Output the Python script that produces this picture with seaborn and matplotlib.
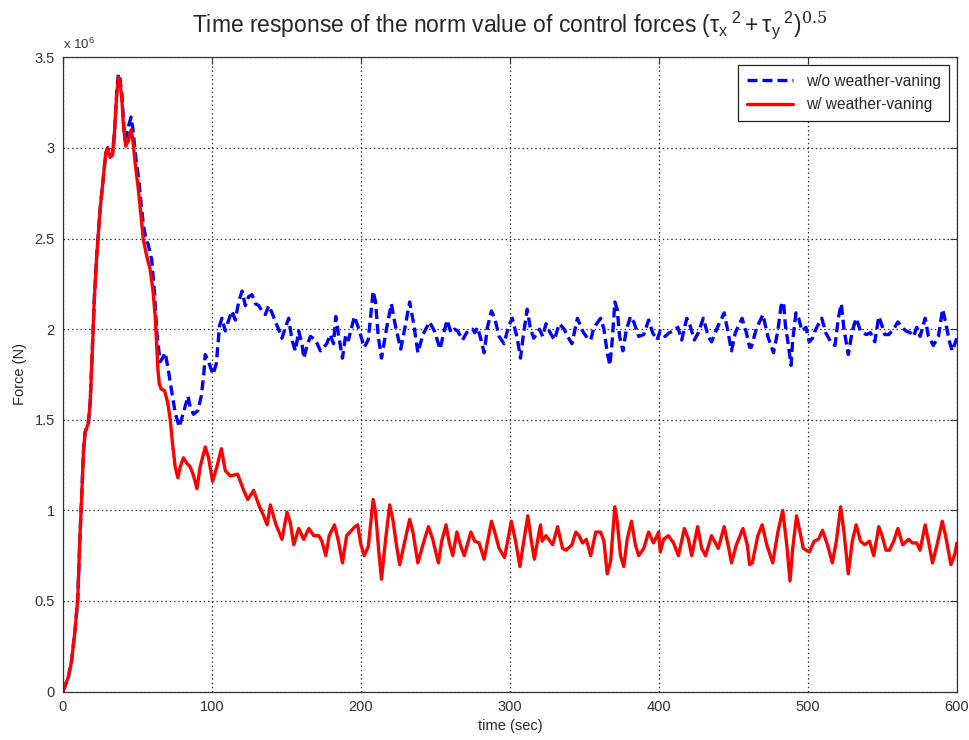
import numpy as np
import pandas as pd
import matplotlib
matplotlib.use("Agg")
import matplotlib.pyplot as plt
import seaborn as sns

# Norm of control forces (units of 1e6 N) versus time (s)
t_with = [0, 3.6, 5.8, 8.1, 9.9, 11.4, 12.6, 13.7, 14.8, 17.0, 18.2, 19.3, 20.0, 21.0, 22.6,
          24.9, 27.1, 28.7, 30.0, 31.6, 33.2, 34.5, 36.1, 37.2, 38.3, 39.5, 40.6, 42.1, 43.9,
          45.7, 46.8, 48.4, 50.6, 52.4, 54.0, 56.3, 58.5, 60.3, 61.9, 63.0, 63.7, 64.6, 65.9,
          68.2, 70.4, 72.0, 73.5, 75.3, 77.1, 78.7, 80.9, 83.1, 85.4, 87.7, 89.9, 92.1, 95.5,
          97.7, 100.4, 103.3, 106.3, 108.9, 112.3, 117.2, 121.3, 124.0, 128.0, 131.4, 134.7,
          137.0, 139.2, 142.6, 147.0, 150.4, 152.6, 154.9, 158.2, 161.6, 165.0, 168.3, 171.7,
          173.8, 176.4, 178.7, 182.2, 184.9, 187.6, 190.4, 193.8, 196.0, 197.8, 200.0, 202.2,
          204.9, 208.2, 209.8, 212.0, 213.8, 216.4, 219.3, 221.6, 223.8, 226.0, 228.9, 232.7,
          234.9, 238.2, 241.6, 245.3, 248.2, 252.0, 254.2, 257.1, 259.3, 261.6, 264.4, 267.1,
          269.3, 273.8, 276.4, 279.3, 282.7, 287.6, 289.8, 292.7, 296.4, 300.9, 303.8, 306.7,
          308.9, 312.0, 314.2, 316.4, 318.5, 320.5, 321.6, 324.2, 326.0, 328.7, 332.0, 335.3,
          337.6, 341.6, 344.2, 346.4, 348.7, 351.3, 354.2, 357.6, 360.9, 363.1, 365.3, 367.6,
          370.4, 372.0, 374.2, 376.4, 378.7, 381.6, 384.2, 386.4, 389.8, 393.1, 396.4, 399.8,
          400.9, 403.1, 406.4, 409.8, 413.1, 417.1, 419.8, 422.0, 426.0, 428.7, 431.3, 435.3,
          439.8, 443.8, 446.9, 448.7, 452.0, 456.4, 459.3, 460.9, 462.7, 466.4, 469.3, 472.4,
          476.4, 479.8, 483.1, 485.8, 488.0, 489.8, 492.4, 494.7, 496.9, 501.0, 504.2, 507.1,
          509.8, 513.1, 516.4, 519.1, 522.0, 524.2, 527.1, 529.8, 532.4, 535.3, 538.2, 541.3,
          544.2, 547.6, 549.8, 552.4, 554.7, 557.6, 560.4, 563.6, 567.6, 570.2, 573.1, 575.3,
          578.7, 580.9, 583.6, 586.4, 590.2, 592.4, 596.0, 598.7, 600.0]
f_with = [0.00, 0.08, 0.17, 0.34, 0.51, 0.86, 1.08, 1.32, 1.43, 1.48, 1.59, 1.80, 1.95, 2.16, 2.40,
          2.66, 2.84, 2.97, 3.00, 2.95, 2.96, 3.08, 3.30, 3.39, 3.36, 3.27, 3.12, 3.01, 3.04,
          3.10, 3.05, 2.92, 2.77, 2.62, 2.49, 2.40, 2.33, 2.22, 2.07, 1.89, 1.78, 1.70, 1.67,
          1.66, 1.59, 1.50, 1.37, 1.24, 1.18, 1.24, 1.29, 1.26, 1.24, 1.19, 1.12, 1.24, 1.35,
          1.29, 1.16, 1.24, 1.34, 1.22, 1.19, 1.20, 1.11, 1.06, 1.11, 1.03, 0.97,
          0.92, 1.03, 0.93, 0.84, 0.99, 0.93, 0.81, 0.90, 0.84, 0.90, 0.86, 0.86,
          0.83, 0.75, 0.86, 0.92, 0.83, 0.71, 0.86, 0.89, 0.91, 0.92, 0.81, 0.75,
          0.80, 1.06, 0.99, 0.77, 0.62, 0.83, 1.03, 0.94, 0.81, 0.70, 0.81, 0.95,
          0.88, 0.71, 0.81, 0.91, 0.84, 0.71, 0.83, 0.92, 0.82, 0.75, 0.88, 0.80,
          0.75, 0.88, 0.83, 0.82, 0.73, 0.94, 0.88, 0.79, 0.74, 0.94, 0.83, 0.69,
          0.81, 0.97, 0.84, 0.73, 0.83, 0.92, 0.83, 0.86, 0.84, 0.81, 0.91, 0.79,
          0.78, 0.81, 0.88, 0.86, 0.82, 0.84, 0.75, 0.88, 0.88, 0.83, 0.65, 0.72,
          1.02, 0.94, 0.75, 0.69, 0.84, 0.94, 0.81, 0.75, 0.79, 0.88, 0.82, 0.88,
          0.77, 0.84, 0.86, 0.82, 0.75, 0.90, 0.84, 0.75, 0.91, 0.79, 0.75, 0.86,
          0.79, 0.91, 0.79, 0.71, 0.81, 0.90, 0.81, 0.70, 0.71, 0.86, 0.92, 0.81,
          0.71, 0.88, 1.00, 0.81, 0.61, 0.79, 0.97, 0.88, 0.79, 0.77, 0.83, 0.84,
          0.89, 0.81, 0.71, 0.83, 1.02, 0.88, 0.65, 0.83, 0.92, 0.83, 0.81, 0.83,
          0.75, 0.91, 0.86, 0.78, 0.78, 0.83, 0.90, 0.81, 0.84, 0.82, 0.82, 0.78,
          0.92, 0.83, 0.71, 0.80, 0.94, 0.86, 0.70, 0.76, 0.82]

t_without = [0, 3.6, 5.8, 8.1, 9.9, 11.4, 12.6, 13.7, 14.8, 17.0, 18.2, 19.3, 20.0, 21.0, 22.6,
             24.9, 27.1, 28.7, 30.0, 31.6, 33.2, 34.5, 36.1, 37.2, 38.3, 39.5, 40.6, 41.5, 42.5,
             44.0, 45.7, 47.0, 48.5, 50.6, 52.4, 54.0, 55.7, 57.4, 59.6, 61.4, 63.0, 65.2, 66.8,
             68.6, 70.8, 73.1, 75.3, 78.0, 80.9, 83.9, 85.4, 87.6, 90.5, 92.8, 94.4, 95.5, 97.7,
             100.7, 102.9, 105.1, 106.7, 108.9, 111.2, 113.4, 115.7, 117.9, 120.2, 122.4, 124.6,
             126.9, 129.1, 131.4, 133.6, 135.8, 138.1, 140.3, 143.7, 147.0, 149.3, 151.5, 153.7,
             156.0, 158.2, 160.4, 161.6, 163.9, 166.1, 169.5, 172.8, 177.1, 179.3, 181.6, 183.1,
             184.9, 187.6, 189.8, 191.6, 195.6, 198.2, 202.2, 204.9, 208.2, 209.8, 211.6, 213.8,
             217.1, 220.4, 223.1, 226.7, 229.8, 232.7, 235.6, 238.2, 241.6, 246.0, 249.3, 253.1,
             255.6, 257.8, 260.4, 262.7, 264.9, 268.2, 271.6, 274.9, 276.4, 278.2, 280.0, 282.7,
             284.9, 287.6, 289.8, 292.7, 296.0, 299.3, 301.6, 304.9, 307.1, 308.9, 311.6, 313.8,
             316.0, 319.8, 322.0, 324.2, 326.4, 329.8, 333.1, 336.4, 338.7, 341.6, 345.3, 348.7,
             352.0, 354.2, 356.4, 360.9, 363.1, 365.3, 367.1, 368.7, 370.4, 372.0, 373.6, 375.8,
             378.0, 380.9, 383.1, 386.4, 389.8, 393.1, 395.8, 398.7, 400.9, 404.2, 406.9, 409.8,
             412.7, 415.3, 418.7, 420.9, 423.8, 426.4, 429.8, 433.1, 435.3, 439.3, 443.8, 446.0,
             448.7, 451.3, 455.8, 458.7, 460.9, 462.0, 465.3, 469.8, 473.1, 476.9, 479.8, 482.0,
             483.6, 484.9, 486.4, 488.7, 489.8, 492.0, 493.8, 496.0, 498.7, 500.9, 503.1, 505.3,
             509.3, 512.0, 515.3, 518.2, 520.4, 522.4, 524.2, 527.1, 529.8, 532.4, 535.3, 539.1,
             542.0, 544.9, 547.6, 549.3, 551.6, 554.2, 557.6, 560.4, 563.1, 565.8, 568.7, 570.9,
             573.1, 575.3, 578.7, 580.9, 584.2, 587.6, 590.4, 592.4, 594.7, 596.9, 600.0]
f_without = [0.00, 0.08, 0.17, 0.34, 0.51, 0.86, 1.08, 1.32, 1.43, 1.48, 1.59, 1.80, 1.95, 2.16, 2.40,
             2.66, 2.84, 2.97, 3.00, 2.95, 2.96, 3.08, 3.31, 3.41, 3.38, 3.30, 3.15, 3.05, 3.06,
             3.12, 3.17, 3.10, 2.97, 2.84, 2.70, 2.57, 2.50, 2.46, 2.38, 2.20, 1.98, 1.82, 1.84,
             1.87, 1.77, 1.65, 1.54, 1.46, 1.54, 1.63, 1.57, 1.53, 1.55, 1.63, 1.74, 1.86, 1.82,
             1.75, 1.81, 2.02, 2.06, 1.99, 2.05, 2.10, 2.05, 2.15, 2.21, 2.13, 2.18,
             2.19, 2.14, 2.13, 2.10, 2.08, 2.13, 2.09, 2.02, 1.95, 2.01, 2.06, 1.94,
             1.88, 1.99, 1.92, 1.84, 1.91, 1.96, 1.94, 1.88, 1.92, 1.97, 1.92, 2.07,
             1.97, 1.84, 1.97, 1.94, 2.07, 2.01, 1.90, 1.94, 2.21, 2.15, 1.96, 1.84,
             2.00, 2.14, 2.02, 1.89, 2.02, 2.15, 2.02, 1.87, 1.97, 2.04, 1.99, 1.89,
             1.98, 2.05, 1.98, 2.00, 1.99, 1.94, 1.99, 2.00, 1.98, 2.01, 1.96, 1.87,
             2.01, 2.10, 2.06, 1.96, 1.92, 2.02, 2.06, 1.95, 1.84, 1.96, 2.11, 2.00,
             1.95, 2.00, 1.96, 2.03, 1.99, 1.94, 2.03, 2.00, 1.96, 1.92, 2.06, 1.99,
             1.95, 1.94, 2.01, 2.06, 2.00, 1.87, 1.80, 1.94, 2.15, 2.11, 1.96, 1.88,
             1.99, 2.07, 2.04, 1.96, 1.97, 2.05, 1.98, 1.94, 1.99, 1.96, 1.98, 1.99,
             2.01, 1.94, 2.06, 2.02, 1.94, 1.98, 2.06, 1.96, 1.93, 2.01, 2.09, 2.00,
             1.88, 1.98, 2.06, 1.98, 1.90, 1.90, 2.00, 2.08, 1.96, 1.87, 1.99, 2.13,
             2.15, 2.02, 1.94, 1.80, 1.94, 2.09, 2.06, 1.99, 2.01, 1.93, 1.95, 2.00,
             2.06, 1.98, 1.93, 1.91, 2.06, 2.14, 2.00, 1.86, 1.99, 2.06, 1.99, 1.97,
             1.98, 1.93, 2.07, 2.03, 1.97, 1.97, 2.00, 2.04, 2.01, 1.99, 1.98, 1.96,
             2.01, 1.96, 2.06, 1.96, 1.91, 1.96, 2.11, 2.04, 1.94, 1.88, 1.95]

x_ticks = [0, 100, 200, 300, 400, 500, 600]
y_ticks = [0, 0.5, 1, 1.5, 2, 2.5, 3, 3.5]
y_tick_labels = ["0", "0.5", "1", "1.5", "2", "2.5", "3", "3.5"]

df_without = pd.DataFrame({"time": t_without, "force": f_without})
df_with = pd.DataFrame({"time": t_with, "force": f_with})

sns.set_style("white")
plt.rcParams["font.family"] = ["Liberation Sans", "DejaVu Sans"]
# Upright sans symbols in the title formula, serif exponent
plt.rcParams["mathtext.fontset"] = "custom"
plt.rcParams["mathtext.rm"] = "Liberation Sans"
plt.rcParams["mathtext.it"] = "Liberation Sans"
plt.rcParams["mathtext.sf"] = "DejaVu Serif"
plt.rcParams["mathtext.default"] = "regular"

fig = plt.figure(figsize=(9.69, 7.40), dpi=100)
ax = fig.add_axes([0.065, 0.0655, 0.9225, 0.857])

sns.lineplot(data=df_without, x="time", y="force", ax=ax, color="#0000ff",
             linestyle=(0, (3.0, 1.5)), linewidth=2.4, sort=False, estimator=None,
             label="w/o weather-vaning")
sns.lineplot(data=df_with, x="time", y="force", ax=ax, color="#ff0000",
             linewidth=2.4, sort=False, estimator=None,
             label="w/ weather-vaning")

ax.set_xlim(0, 600)
ax.set_ylim(0, 3.5)
ax.set_xticks(x_ticks)
ax.set_yticks(y_ticks)
ax.set_yticklabels(y_tick_labels)
ax.tick_params(direction="in", length=5, width=0.8, labelsize=10.5, colors="#333333",
               top=True, right=True, labeltop=False, labelright=False, pad=6)
for side in ax.spines.values():
    side.set_color("#333333")
    side.set_linewidth(0.9)

ax.grid(True, color="#333333", linestyle=(0, (1.2, 2.2)), linewidth=0.9)
ax.set_axisbelow(True)

ax.set_xlabel("time (sec)", fontsize=10.5, labelpad=4)
ax.set_ylabel("Force (N)", fontsize=10.5, labelpad=5)
ax.set_title(r"Time response of the norm value of control forces "
             r"$(\tau_{x}{}^{\;2} + \tau_{y}{}^{\;2})^{\mathsf{0.5}}$",
             fontsize=16.5, pad=18)
ax.text(0.0, 1.008, r"x 10$^6$", transform=ax.transAxes, fontsize=9.5, ha="left", va="bottom",
        color="#333333")

leg = ax.legend(loc="upper right", fontsize=11.2, frameon=True, fancybox=False,
                edgecolor="#222222", framealpha=1.0, borderpad=0.55, handlelength=3.0,
                labelspacing=0.55, borderaxespad=0.5)
leg.get_frame().set_linewidth(0.9)

fig.savefig("out.png", dpi=100)
